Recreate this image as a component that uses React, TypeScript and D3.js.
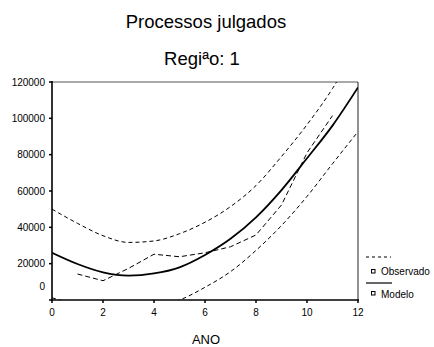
import * as d3 from 'd3';

// values
const years = [0, 1, 2, 3, 4, 5, 6, 7, 8, 9, 10, 11, 12];
const modelo = [26000, 19800, 15200, 13400, 14600, 18000, 24800, 33700, 45500, 60500, 78000, 96000, 117000];
const upper = [50000, 42200, 35400, 31700, 32500, 36500, 42800, 51400, 63000, 79000, 96500, 116400, 141000];
const lower = [1200, -2500, -5000, -4900, -3400, 0, 7000, 15600, 27300, 41000, 57000, 75000, 92700];

const obsYears = [1, 2, 3, 4, 5, 6, 7, 8, 9, 10, 11];
const observado = [14300, 10600, 17400, 25200, 23800, 26000, 29300, 35800, 52300, 81000, 101500];

const xTicks = [0, 2, 4, 6, 8, 10, 12];
const yTicks = [0, 20000, 40000, 60000, 80000, 100000, 120000];

const W = 434;
const H = 347;
const left = 52, right = 358, top = 82, bottom = 300;
const font = 'Liberation Sans, Arial, sans-serif';

export default function App() {
    const x = d3.scaleLinear().domain([0, 12]).range([left, right]);
    const y = d3.scaleLinear().domain([0, 120000]).range([bottom, top]);

    const smooth = d3.line<number>()
        .x((_, i) => x(years[i]))
        .y(d => y(d))
        .curve(d3.curveMonotoneX);

    const straight = d3.line<number>()
        .x((_, i) => x(obsYears[i]))
        .y(d => y(d));

    return (
        <svg width={W} height={H} style={{ position: 'absolute', left: 0, top: 0, background: '#fff' }}
            fontFamily={font}>
            <defs>
                <clipPath id="plot">
                    <rect x={left} y={top} width={right - left} height={bottom - top} />
                </clipPath>
            </defs>

            <text x={206} y={28} textAnchor="middle" fontSize={18.5}>Processos julgados</text>
            <text x={202} y={65} textAnchor="middle" fontSize={18.5}>Regiªo: 1</text>

            {/* frame */}
            <line x1={left} x2={right} y1={top} y2={top} stroke="#555" strokeWidth={1} />
            <line x1={right} x2={right} y1={top} y2={bottom} stroke="#222" strokeWidth={1} />
            <line x1={left} x2={left} y1={top - 1} y2={bottom + 1} stroke="#000" strokeWidth={1.6} />
            <line x1={left - 1} x2={right + 1} y1={bottom} y2={bottom} stroke="#000" strokeWidth={1.6} />

            {/* y axis */}
            {yTicks.map(t => (
                <g key={t}>
                    <line x1={left - 3} x2={left} y1={y(t)} y2={y(t)} stroke="#000" strokeWidth={1.5} />
                    <text x={45} y={y(t) + (t === 0 ? -10 : 3.5)} textAnchor="end" fontSize={10}>{t}</text>
                </g>
            ))}

            {/* x axis */}
            {xTicks.map(t => (
                <g key={t}>
                    <line x1={x(t)} x2={x(t)} y1={bottom} y2={bottom + 3} stroke="#000" strokeWidth={1.5} />
                    <text x={x(t)} y={316} textAnchor="middle" fontSize={10}>{t}</text>
                </g>
            ))}
            <text x={206} y={344} textAnchor="middle" fontSize={13}>ANO</text>

            <g clipPath="url(#plot)" fill="none">
                <path d={smooth(upper) || ''} stroke="#000" strokeWidth={1} strokeDasharray="4,3" />
                <path d={smooth(lower) || ''} stroke="#000" strokeWidth={1} strokeDasharray="4,3" />
                <path d={straight(observado) || ''} stroke="#000" strokeWidth={1} strokeDasharray="5,3" />
                <path d={smooth(modelo) || ''} stroke="#000" strokeWidth={1.8} />
            </g>

            {/* legend */}
            <line x1={366} x2={391} y1={257} y2={257} stroke="#000" strokeWidth={1} strokeDasharray="3,3" />
            <rect x={371.5} y={269.5} width={3.5} height={3.5} fill="#fff" stroke="#000" strokeWidth={1} />
            <text x={381} y={275} fontSize={10}>Observado</text>
            <line x1={366} x2={392} y1={283} y2={283} stroke="#000" strokeWidth={1.2} />
            <rect x={371.5} y={291.5} width={3.5} height={3.5} fill="#fff" stroke="#000" strokeWidth={1} />
            <text x={381} y={298} fontSize={10}>Modelo</text>
        </svg>
    );
}
